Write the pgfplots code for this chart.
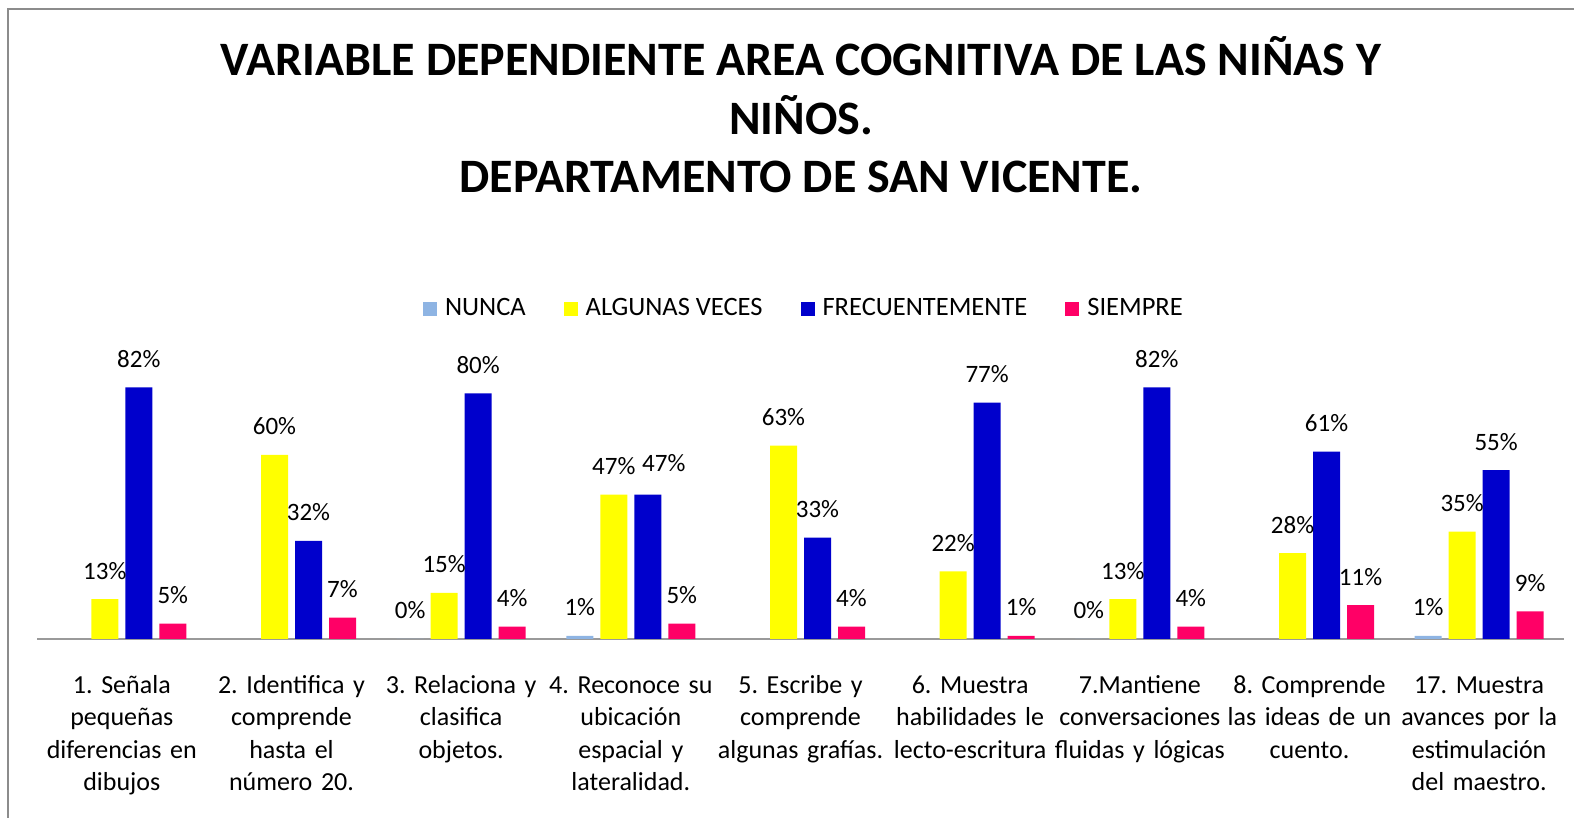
\documentclass[border=0pt]{standalone}
\usepackage{fontspec}
\setmainfont{Carlito}
\usepackage{pgfplots}
\usepackage{pgfplotstable}
\pgfplotsset{compat=1.18}
\definecolor{cNunca}{HTML}{8EB4E3}
\definecolor{cAlg}{HTML}{FFFF00}
\definecolor{cFrec}{HTML}{0000CC}
\definecolor{cSiem}{HTML}{FF0066}
\definecolor{cBorder}{HTML}{8C8C8C}
\definecolor{cAxis}{HTML}{9A9A9A}
\frenchspacing
\pgfplotstableread{
x y dx dy
0 82 0 0
1 32 0 0
2 80 0 0
3 47 8 1.5
4 33 0 0
5 77 0 0
6 82 0 0
7 61 0 0
8 55 0 0
}\frectable
\begin{document}
\begin{tikzpicture}
\useasboundingbox (0pt,0pt) rectangle (787pt,409pt);
\draw[cBorder, line width=1pt] (3.75pt,-5pt) -- (3.75pt,404.5pt) -- (800pt,404.5pt);
\node[anchor=base, font=\fontsize{24}{29}\selectfont\bfseries, inner sep=0pt] at (400.5pt,371pt) {VARIABLE DEPENDIENTE AREA COGNITIVA DE LAS NIÑAS Y};
\node[anchor=base, font=\fontsize{24}{29}\selectfont\bfseries, inner sep=0pt] at (400.5pt,341.75pt) {NIÑOS.};
\node[anchor=base, font=\fontsize{24}{29}\selectfont\bfseries, inner sep=0pt] at (400.5pt,312.5pt) {DEPARTAMENTO DE SAN VICENTE.};
\begin{axis}[
  at={(18.5pt,89.5pt)}, anchor=south west,
  scale only axis, width=763.5pt, height=153.5pt,
  ymin=0, ymax=100, xmin=-0.5, xmax=8.5,
  ybar=3.5pt, bar width=13.5pt,
  every axis plot/.append style={draw=none, legend image code/.code={\fill[##1] (0pt,-4pt) rectangle (7pt,3pt);}},
  axis x line*=bottom, axis y line=none,
  x axis line style={cAxis, line width=1pt, -},
  xtick={0,1,2,3,4,5,6,7,8},
  xtick style={draw=none},
  ytick=\empty,
  xticklabels={{1. Señala\\pequeñas\\diferencias en\\dibujos},
    {2. Identifica y\\comprende\\hasta el\\número 20.},
    {3. Relaciona y\\clasifica\\objetos.},
    {4. Reconoce su\\ubicación\\espacial y\\lateralidad.},
    {5. Escribe y\\comprende\\algunas grafías.},
    {6. Muestra\\habilidades le\\lecto-escritura},
    {7.Mantiene\\conversaciones\\fluidas y lógicas},
    {8. Comprende\\las ideas de un\\cuento.},
    {17. Muestra\\avances por la\\estimulación\\del maestro.}},
  xticklabel style={font=\fontsize{13}{16.15}\selectfont\frenchspacing, text width=100pt, align=center, anchor=base, yshift=-23pt},
  /pgf/number format/assume math mode=true,
  nodes near coords={\pgfmathprintnumber{\pgfplotspointmeta}\%},
  every node near coord/.append style={font=\fontsize{12.5}{15}\selectfont, anchor=base, yshift=10pt, inner sep=0pt, text=black},
  clip=false,
  legend columns=4,
  legend style={at={(0.5016,1.078)}, anchor=center, draw=none, fill=none,
    font=\fontsize{13.25}{16}\selectfont, inner sep=0pt,
    nodes={inner sep=0pt},
    /tikz/every odd column/.append style={column sep=4pt},
    /tikz/every even column/.append style={column sep=19pt}},
]
\addplot[fill=cNunca] coordinates {(2,0) (3,1) (6,0) (8,1)};
\addplot[fill=cAlg] coordinates {(0,13) (1,60) (2,15) (3,47) (4,63) (5,22) (6,13) (7,28) (8,35)};
\addplot[fill=cFrec,
  visualization depends on={\thisrow{dx} \as \labdx},
  visualization depends on={\thisrow{dy} \as \labdy},
  every node near coord/.append style={xshift=\labdx pt, yshift=\labdy pt}]
  table[x=x, y=y] {\frectable};
\addplot[fill=cSiem] coordinates {(0,5) (1,7) (2,4) (3,5) (4,4) (5,1) (6,4) (7,11) (8,9)};
\legend{NUNCA, ALGUNAS VECES, FRECUENTEMENTE, SIEMPRE}
\end{axis}
\end{tikzpicture}
\end{document}
